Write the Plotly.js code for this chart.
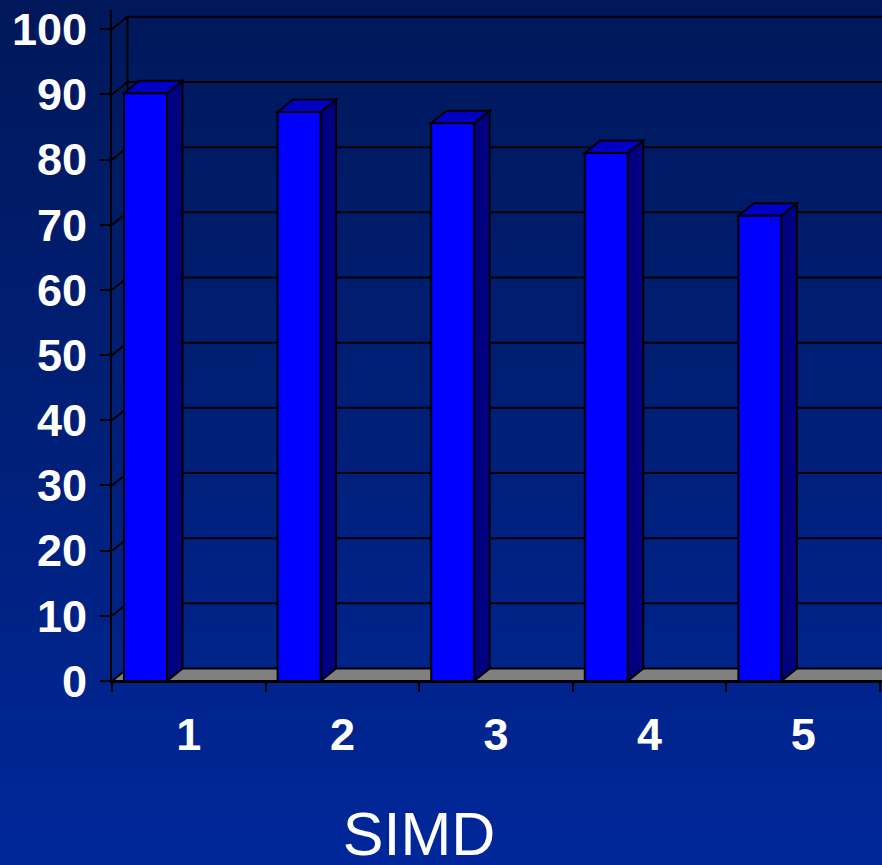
<!DOCTYPE html>
<html>
<head>
<meta charset="utf-8">
<script src="https://cdn.plot.ly/plotly-3.0.1.min.js"></script>
<style>
  html, body { margin: 0; padding: 0; }
  body { width: 882px; height: 865px; background: linear-gradient(to bottom, #00185a 0%, #001f78 50%, #00279a 100%); }
  #chart { width: 882px; height: 865px; }
</style>
</head>
<body>
<div id="chart"></div>
<script>
// ---- data ----
const categories = ["1", "2", "3", "4", "5"];
const values = [90.2, 87.3, 85.6, 81.0, 71.4];
const yTicks = [0, 10, 20, 30, 40, 50, 60, 70, 80, 90, 100];
const axisTitle = "SIMD";

// ---- 3D look (depth offset in axis units) ----
const DX = 0.101;    // depth along x
const DY = 1.92;     // depth along y
const BAR_OFF = 0.078;
const BAR_W = 0.28;
const XMAX = 5.4;
const LINE = 'black';

const shapes = [];
// back wall gridlines + side wall diagonals
yTicks.filter(v => v > 0).forEach(v => {
  shapes.push({type: 'path', xref: 'x', yref: 'y', layer: 'below',
    path: `M 0,${v} L ${DX},${v + DY} L ${XMAX},${v + DY}`,
    line: {color: LINE, width: 2}});
});
// back-left vertical edge
shapes.push({type: 'path', xref: 'x', yref: 'y', layer: 'below',
  path: `M ${DX},${DY} L ${DX},${yTicks[yTicks.length - 1] + DY}`,
  line: {color: LINE, width: 2}});
// floor
shapes.push({type: 'path', xref: 'x', yref: 'y', layer: 'below',
  path: `M 0,0 L ${XMAX},0 L ${XMAX},${DY} L ${DX},${DY} Z`,
  fillcolor: '#808080', line: {color: LINE, width: 2}});

const xCenters = [];
values.forEach((v, i) => {
  const l = i + BAR_OFF, r = l + BAR_W;
  xCenters.push(l + BAR_W / 2);
  // side face
  shapes.push({type: 'path', xref: 'x', yref: 'y', layer: 'below',
    path: `M ${r},0 L ${r + DX},${DY} L ${r + DX},${v + DY} L ${r},${v} Z`,
    fillcolor: '#000080', line: {color: LINE, width: 2}});
  // top face
  shapes.push({type: 'path', xref: 'x', yref: 'y', layer: 'below',
    path: `M ${l},${v} L ${l + DX},${v + DY} L ${r + DX},${v + DY} L ${r},${v} Z`,
    fillcolor: '#0000c4', line: {color: LINE, width: 2}});
});

const bars = {
  type: 'bar', x: xCenters, y: values, width: BAR_W,
  marker: {color: '#0000ff', line: {color: LINE, width: 2}},
  hoverinfo: 'skip'
};

const font = {family: 'Liberation Sans, Arial, sans-serif', color: 'white'};

const layout = {
  width: 882, height: 865,
  margin: {l: 112, r: 0, t: 10, b: 184},
  paper_bgcolor: 'rgba(0,0,0,0)',
  plot_bgcolor: 'rgba(0,0,0,0)',
  showlegend: false,
  font: font,
  shapes: shapes,
  title: {
    text: axisTitle,
    font: {family: font.family, color: 'white', size: 61},
    xref: 'container', x: 419 / 882, xanchor: 'center',
    yref: 'container', y: 1 - 834 / 865, yanchor: 'middle'
  },
  xaxis: {
    type: 'linear', range: [0, 770 / 153.6], fixedrange: true,
    tickmode: 'array',
    tickvals: categories.map((c, i) => i + 0.5),
    ticktext: categories,
    ticks: '',
    ticklabelstandoff: 13,
    tickfont: {family: font.family, color: 'white', size: 45, weight: 700},
    minor: {tickmode: 'array', tickvals: [0, 1, 2, 3, 4, 5], ticks: 'outside',
            ticklen: 9, tickwidth: 2, tickcolor: LINE, showgrid: false},
    showline: true, linecolor: LINE, linewidth: 2,
    showgrid: false, zeroline: false
  },
  yaxis: {
    range: [0, 671 / 6.517], fixedrange: true,
    tickmode: 'array', tickvals: yTicks,
    ticks: 'outside', ticklen: 10, tickwidth: 2, tickcolor: LINE,
    ticklabelstandoff: 4,
    tickfont: {family: font.family, color: 'white', size: 45, weight: 700},
    showline: true, linecolor: LINE, linewidth: 2,
    showgrid: false, zeroline: false
  }
};

Plotly.newPlot('chart', [bars], layout, {staticPlot: true, displayModeBar: false});
</script>
</body>
</html>
